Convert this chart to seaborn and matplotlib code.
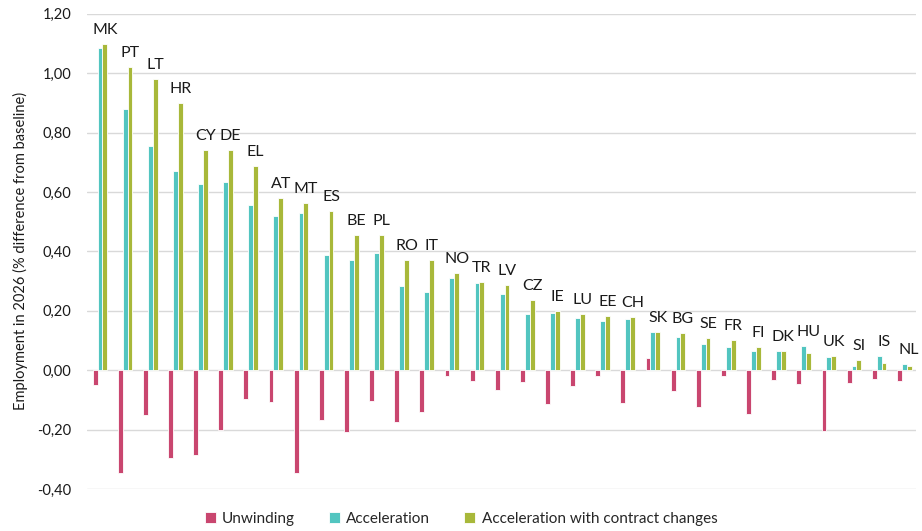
import pandas as pd
import matplotlib.pyplot as plt
import seaborn as sns
from matplotlib.ticker import FuncFormatter, MultipleLocator

# -------------------------------
# DATA
# -------------------------------

countries = ["MK", "PT", "LT", "HR", "CY", "DE", "EL", "AT", "MT", "ES", "BE", "PL",
             "RO", "IT", "NO", "TR", "LV", "CZ", "IE", "LU", "EE", "CH", "SK", "BG",
             "SE", "FR", "FI", "DK", "HU", "UK", "SI", "IS", "NL"]

unwinding = [-0.050, -0.345, -0.150, -0.296, -0.285, -0.200, -0.097, -0.106, -0.346,
             -0.166, -0.207, -0.103, -0.174, -0.139, -0.019, -0.036, -0.065, -0.039,
             -0.113, -0.054, -0.018, -0.109, 0.042, -0.070, -0.124, -0.021, -0.147,
             -0.034, -0.047, -0.203, -0.043, -0.030, -0.036]

acceleration = [1.085, 0.879, 0.755, 0.670, 0.627, 0.633, 0.555, 0.519, 0.528,
                0.387, 0.370, 0.395, 0.285, 0.265, 0.312, 0.293, 0.256, 0.188,
                0.192, 0.175, 0.165, 0.174, 0.129, 0.111, 0.089, 0.078, 0.064,
                0.066, 0.082, 0.046, 0.013, 0.049, 0.022]

acceleration_contract = [1.100, 1.021, 0.980, 0.899, 0.743, 0.740, 0.689, 0.580, 0.562,
                         0.536, 0.455, 0.454, 0.372, 0.372, 0.326, 0.297, 0.286, 0.238,
                         0.200, 0.189, 0.182, 0.179, 0.128, 0.127, 0.108, 0.101, 0.079,
                         0.066, 0.058, 0.049, 0.033, 0.025, 0.015]

series_names = ["Unwinding", "Acceleration", "Acceleration with contract changes"]
series_colors = ["#C9466F", "#52C5C0", "#A8B83A"]

# long format for seaborn
df = pd.DataFrame({
    "country": countries * 3,
    "scenario": [series_names[0]] * len(countries)
              + [series_names[1]] * len(countries)
              + [series_names[2]] * len(countries),
    "value": unwinding + acceleration + acceleration_contract,
})

# -------------------------------
# PLOT
# -------------------------------

sns.set_style("white")
plt.rcParams["font.family"] = ["Lato", "DejaVu Sans"]

fig, ax = plt.subplots(figsize=(9.22, 5.31), dpi=100)
fig.subplots_adjust(left=0.094, right=0.993, top=0.974, bottom=0.079)

bar_width = 0.58
sns.barplot(data=df, x="country", y="value", hue="scenario",
            hue_order=series_names, palette=series_colors, order=countries,
            width=bar_width, edgecolor="white", linewidth=0.6,
            saturation=1, errorbar=None, ax=ax, zorder=3)

# country labels above each group (centred on the last bar)
for i, c in enumerate(countries):
    top = max(unwinding[i], acceleration[i], acceleration_contract[i])
    ax.annotate(c, xy=(i + bar_width / 3, top), xytext=(0, 5),
                textcoords="offset points", ha="center", va="bottom",
                fontsize=11.5, color="#1a1a1a")

ax.set_ylim(-0.4, 1.2)
ax.set_xlim(-0.53, len(countries) - 1 + 0.45)
ax.yaxis.set_major_locator(MultipleLocator(0.2))
ax.yaxis.set_major_formatter(FuncFormatter(lambda v, p: f"{v:.2f}".replace(".", ",")))
ax.grid(axis="y", color="#D9D9D9", linewidth=1, zorder=0)
ax.set_axisbelow(True)

ax.set_xticks([])
ax.set_xlabel("")
ax.set_ylabel("Employment in 2026 (% difference from baseline)", fontsize=10.5,
              color="#1a1a1a", labelpad=7)
ax.tick_params(axis="y", labelsize=10.5, colors="#1a1a1a", length=0, pad=11)
sns.despine(ax=ax, left=True, bottom=True)

ax.legend_.remove()
handles, labels = ax.get_legend_handles_labels()
fig.legend(handles, labels, loc="center", bbox_to_anchor=(0.5, 0.023), ncol=3,
           frameon=False, fontsize=11, handlelength=0.75, handleheight=0.75,
           handletextpad=0.4, columnspacing=2.2)

plt.savefig("out.png", dpi=100)
